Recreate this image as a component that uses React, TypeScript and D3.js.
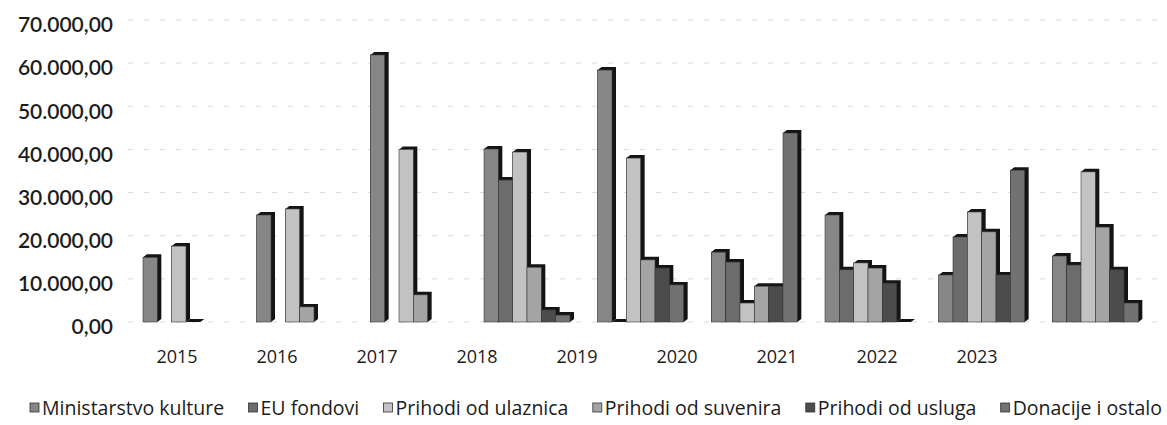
import React, { useRef, useEffect } from 'react';
import * as d3 from 'd3';

const years = ["2015", "2016", "2017", "2018", "2019", "2020", "2021", "2022", "2023"];
const seriesNames = [
  "Ministarstvo kulture",
  "EU fondovi",
  "Prihodi od ulaznica",
  "Prihodi od suvenira",
  "Prihodi od usluga",
  "Donacije i ostalo"
];
const seriesColors = ["#868686", "#6c6c6c", "#c2c2c2", "#a4a4a4", "#4c4c4c", "#727272"];

// one array per series, index = year (null = no bar)
const ministarstvo = [15000, 24800, 61900, 40100, 58400, 16200, 24800, 10900, 15300];
const euFondovi = [null, null, null, 32900, 0, 13900, 12100, 19700, 13200];
const ulaznice = [17600, 26200, 40000, 39400, 38000, 4400, 13700, 25500, 34800];
const suveniri = [0, 3500, 6300, 12700, 14400, 8300, 12500, 20900, 22000];
const usluge = [null, null, null, 2800, 12500, 8300, 9000, 10900, 12100];
const donacije = [null, null, null, 1600, 8600, 43800, 0, 35200, 4400];
const seriesValues = [ministarstvo, euFondovi, ulaznice, suveniri, usluge, donacije];

const yTicks = [0, 10000, 20000, 30000, 40000, 50000, 60000, 70000];

function Chart() {
  const svgRef = useRef(null);

  useEffect(() => {
    const width = 1167;
    const height = 425;
    const font = "Lato, 'Open Sans', sans-serif";
    const legendFont = "'Open Sans', Lato, sans-serif";

    const svg = d3.select(svgRef.current)
      .attr("width", width)
      .attr("height", height);
    svg.selectAll("*").remove();

    svg.append("rect").attr("width", width).attr("height", height).attr("fill", "#ffffff");

    const y = d3.scaleLinear().domain([0, 70000]).range([322, 20]);

    // bars sit further back than the category labels (3D floor), so two scales
    const xGroup = d3.scaleBand().domain(years).range([143, 1166]);
    const xSeries = d3.scaleBand().domain(d3.range(6).map(String)).range([0, 86]);
    const xLabel = d3.scalePoint().domain(years).range([177, 977]);

    // gridlines
    svg.append("g")
      .selectAll("line")
      .data(yTicks)
      .enter()
      .append("line")
      .attr("x1", 128)
      .attr("x2", 1167)
      .attr("y1", d => y(d))
      .attr("y2", d => y(d))
      .attr("stroke", "#dcdcdc")
      .attr("stroke-width", 1)
      .attr("stroke-dasharray", "5 11");

    // y axis labels
    const fmt = d3.formatLocale({ decimal: ",", thousands: ".", grouping: [3], currency: ["", ""] }).format(",.2f");
    svg.append("g")
      .selectAll("text")
      .data(yTicks)
      .enter()
      .append("text")
      .attr("x", 113)
      .attr("y", d => y(d) + 5)
      .attr("dy", "0.35em")
      .attr("text-anchor", "end")
      .attr("font-family", font)
      .attr("font-size", 21)
      .attr("font-weight", 600)
      .attr("fill", "#1c1c1c")
      .text(d => fmt(d));

    // bars
    const dx = 4, dy = 3;
    const bw = xSeries.bandwidth();
    const bars = [];
    years.forEach((yr, i) => {
      seriesValues.forEach((vals, s) => {
        const v = vals[i];
        if (v === null) return;
        bars.push({ year: yr, s, v });
      });
    });

    const barG = svg.append("g")
      .selectAll("g")
      .data(bars)
      .enter()
      .append("g");

    barG.append("polygon")
      .attr("points", d => {
        const x = xGroup(d.year) + xSeries(String(d.s));
        const top = y(d.v);
        const base = y(0);
        return [
          [x, top], [x + dx, top - dy], [x + bw + dx, top - dy],
          [x + bw + dx, base - dy], [x + bw, base], [x, base]
        ].map(p => p.join(",")).join(" ");
      })
      .attr("fill", "#141414");

    barG.append("rect")
      .attr("x", d => xGroup(d.year) + xSeries(String(d.s)))
      .attr("y", d => y(d.v))
      .attr("width", bw)
      .attr("height", d => y(0) - y(d.v))
      .attr("fill", d => seriesColors[d.s])
      .attr("stroke", "#3a3a3a")
      .attr("stroke-width", 0.6);

    // x labels
    svg.append("g")
      .selectAll("text")
      .data(years)
      .enter()
      .append("text")
      .attr("x", d => xLabel(d))
      .attr("y", 357)
      .attr("dy", "0.35em")
      .attr("text-anchor", "middle")
      .attr("font-family", legendFont)
      .attr("font-size", 18)
      .attr("fill", "#1c1c1c")
      .text(d => d);

    // legend, spread between 30 and 1162
    const legend = svg.append("g");
    const items = legend.selectAll("g")
      .data(seriesNames)
      .enter()
      .append("g");
    items.append("rect")
      .attr("width", 9)
      .attr("height", 9)
      .attr("y", 403)
      .attr("fill", (d, i) => seriesColors[i])
      .attr("stroke", "#333")
      .attr("stroke-width", 0.8);
    items.append("text")
      .attr("x", 12)
      .attr("y", 408)
      .attr("dy", "0.35em")
      .attr("font-family", legendFont)
      .attr("font-size", 19.5)
      .attr("fill", "#1c1c1c")
      .text(d => d);

    const widths = [];
    items.selectAll("text").each(function () { widths.push(12 + this.getComputedTextLength()); });
    const total = d3.sum(widths);
    const gap = (1162 - 30 - total) / (seriesNames.length - 1);
    let cx = 30;
    items.attr("transform", (d, i) => {
      const t = `translate(${cx},0)`;
      cx += widths[i] + gap;
      return t;
    });
  }, []);

  return (
    <svg ref={svgRef} style={{ position: "absolute", left: 0, top: 0, display: "block" }}></svg>
  );
}

export default function App() {
  return <Chart />;
}
